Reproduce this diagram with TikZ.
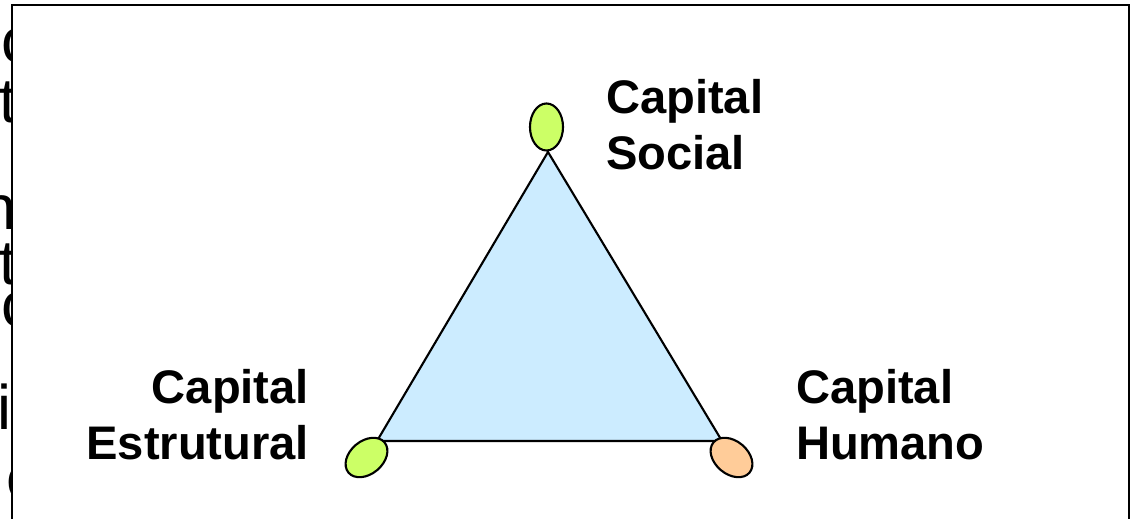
\documentclass[tikz,border=0pt]{standalone}
\usepackage{fontspec}
\setmainfont{Liberation Sans}
\usetikzlibrary{shapes.geometric}

\definecolor{lime}{HTML}{CCFF66}
\definecolor{peach}{HTML}{FFCC99}
\definecolor{triblue}{HTML}{CCECFF}

\begin{document}
\begin{tikzpicture}
        [x=0.01cm, y=-0.01cm, every path/.style={line width=0.6pt},
        blob/.style={draw,shape=ellipse,inner sep=0,minimum width=0.47cm,minimum height=0.33cm},
        lbl/.style={font=\bfseries\fontsize{13.4}{16.2}\selectfont,inner sep=0,anchor=base west,align=left},
        frag/.style={font=\fontsize{17.9}{20}\selectfont,inner sep=0,anchor=base west}]

        \useasboundingbox (0,0) rectangle (1130,519);

        % text of the page behind, cut by the frame
        \node[frag] (f1) at (0,63) {c};
        \node[frag] (f2) at (-2,123) {t};
        \node[frag] (f3) at (-20,230) {n};
        \node[frag] (f4) at (-2,285) {t};
        \node[frag] (f5) at (0,327) {ç};
        \node[frag] (f6) at (-4,430) {ic};
        \node[frag] (f7) at (5,500) {o};

        \fill[white] (12,5) rectangle (1140,530);
        \draw (12,530) -- (12,5) -- (1129.5,5) -- (1129.5,530);

        \coordinate (vs) at (548,152);
        \coordinate (ve) at (377,441);
        \coordinate (vh) at (722,441);

        \filldraw[fill=triblue] (vs) -- (ve) -- (vh) -- cycle;

        \node[blob,fill=lime,rotate=90] (social) at (546.5,127) {};
        \node[blob,fill=lime,rotate=40] (estrutural) at (366.5,457.5) {};
        \node[blob,fill=peach,rotate=-40] (humano) at (731.5,457.5) {};

        % base is the last line here
        \node[lbl] (lsocial) at (605,170) {Capital\\Social};
        \node[lbl,align=right,anchor=base east] (lestrutural) at (310,460) {Capital\hspace{0.17cm}\\Estrutural};
        \node[lbl] (lhumano) at (795,460) {Capital\\Humano};

      \end{tikzpicture}
\end{document}
